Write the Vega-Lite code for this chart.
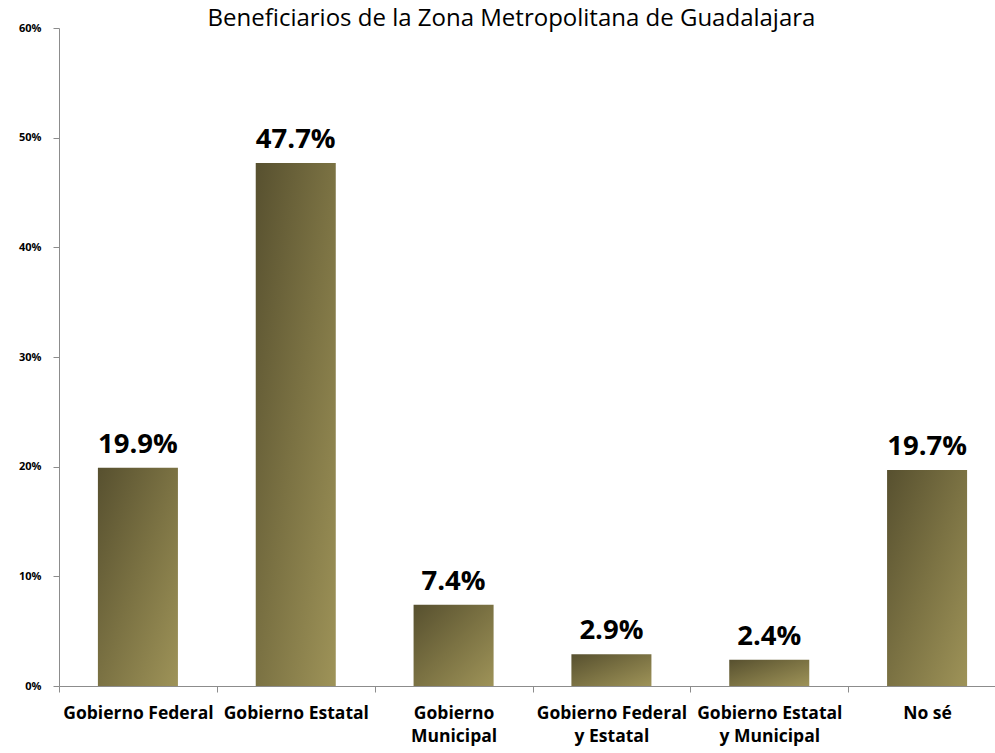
{
  "$schema": "https://vega.github.io/schema/vega-lite/v6.json",
  "autosize": "none",
  "padding": {"left": 59, "top": 28, "right": 0, "bottom": 67},
  "width": 947,
  "height": 658,
  "title": {
    "text": "Beneficiarios de la Zona Metropolitana de Guadalajara",
    "font": "Open Sans",
    "fontSize": 24,
    "fontWeight": "normal",
    "color": "#000000",
    "anchor": "middle",
    "baseline": "alphabetic",
    "dx": -21,
    "offset": -28
  },
  "config": {"view": {"stroke": null}},
  "data": {
    "values": [
      {"cat": "Gobierno Federal", "v": 0.199},
      {"cat": "Gobierno Estatal", "v": 0.477},
      {"cat": "Gobierno Municipal", "v": 0.074},
      {"cat": "Gobierno Federal y Estatal", "v": 0.029},
      {"cat": "Gobierno Estatal y Municipal", "v": 0.024},
      {"cat": "No sé", "v": 0.197}
    ]
  },
  "encoding": {
    "x": {
      "field": "cat",
      "type": "nominal",
      "sort": null,
      "scale": {"paddingInner": 0, "paddingOuter": 0},
      "axis": {
        "title": null,
        "labelAngle": 0,
        "labelExpr": "datum.value == 'Gobierno Municipal' ? ['Gobierno', 'Municipal'] : datum.value == 'Gobierno Federal y Estatal' ? ['Gobierno Federal', 'y Estatal'] : datum.value == 'Gobierno Estatal y Municipal' ? ['Gobierno Estatal', 'y Municipal'] : (isString(datum.value) ? datum.value : '')",
        "tickBand": "extent",
        "domainColor": "#8c8c8c",
        "tickColor": "#8c8c8c",
        "tickSize": 6,
        "labelPadding": 12,
        "labelFont": "Open Sans",
        "labelFontSize": 17.5,
        "labelFontWeight": "bold",
        "labelColor": "#000000",
        "labelLineHeight": 23,
        "labelBaseline": "top",
        "labelLimit": 300
      }
    },
    "y": {
      "field": "v",
      "type": "quantitative",
      "scale": {"domain": [0, 0.6]},
      "axis": {
        "title": null,
        "format": ".0%",
        "values": [0, 0.1, 0.2, 0.3, 0.4, 0.5, 0.6],
        "grid": false,
        "domainColor": "#8c8c8c",
        "tickColor": "#8c8c8c",
        "tickSize": 6,
        "labelPadding": 12,
        "labelFont": "Open Sans",
        "labelFontSize": 11,
        "labelFontWeight": "bold",
        "labelColor": "#000000"
      }
    }
  },
  "layer": [
    {
      "mark": {
        "type": "bar",
        "width": {"band": 0.507},
        "color": {
          "gradient": "linear",
          "x1": 0, "y1": 0, "x2": 1, "y2": 1,
          "stops": [
            {"offset": 0, "color": "#57502f"},
            {"offset": 0.5, "color": "#7b7243"},
            {"offset": 1, "color": "#9e9358"}
          ]
        }
      }
    },
    {
      "mark": {
        "type": "text",
        "dy": -15,
        "baseline": "alphabetic",
        "font": "Open Sans",
        "fontSize": 27.5,
        "fontWeight": "bold",
        "color": "#000000"
      },
      "encoding": {
        "text": {"field": "v", "type": "quantitative", "format": ".1%"}
      }
    }
  ]
}
